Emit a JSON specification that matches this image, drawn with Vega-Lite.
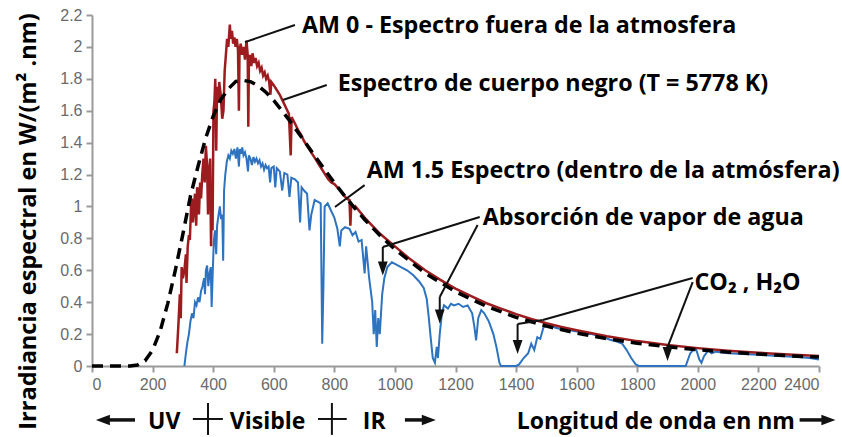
{
  "$schema": "https://vega.github.io/schema/vega-lite/v6.json",
  "width": 727,
  "height": 351,
  "autosize": {"type": "none"},
  "padding": {"left": 92, "top": 15, "right": 23, "bottom": 71},
  "background": "white",
  "config": {
    "view": {"stroke": null},
    "axis": {
      "domainColor": "#9a9a9a", "domainWidth": 2, "tickColor": "#9a9a9a", "tickWidth": 2, "tickSize": 6,
      "labelColor": "#6a6a6a", "labelFont": "Liberation Sans", "labelFontSize": 16, "grid": false, "labelPadding": 4
    },
    "axisY": {
      "titleFont": "Open Sans", "titleFontWeight": "bold", "titleFontSize": 23.5, "titleColor": "black",
      "titleAngle": -90, "titleX": -64, "titleY": 206, "titleBaseline": "middle", "titleAlign": "center"
    }
  },
  "datasets": {
    "bb": [
      {"x":0,"y":0},{"x":50,"y":0},{"x":100,"y":0},{"x":125,"y":0.0006},{"x":150,"y":0.0066},{"x":175,"y":0.0326},{"x":200,"y":0.099},{"x":225,"y":0.2186},{"x":250,"y":0.391},{"x":275,"y":0.60},{"x":300,"y":0.827},{"x":325,"y":1.065},{"x":350,"y":1.252},{"x":375,"y":1.426},{"x":400,"y":1.566},{"x":425,"y":1.669},{"x":450,"y":1.737},{"x":475,"y":1.784},{"x":500,"y":1.790},{"x":525,"y":1.781},{"x":550,"y":1.755},{"x":575,"y":1.714},{"x":600,"y":1.665},{"x":650,"y":1.544},{"x":700,"y":1.412},{"x":750,"y":1.278},{"x":800,"y":1.148},{"x":850,"y":1.028},{"x":900,"y":0.918},{"x":950,"y":0.819},{"x":1000,"y":0.731},{"x":1100,"y":0.582},{"x":1200,"y":0.466},{"x":1300,"y":0.376},{"x":1400,"y":0.305},{"x":1500,"y":0.250},{"x":1600,"y":0.206},{"x":1700,"y":0.171},{"x":1800,"y":0.143},{"x":1900,"y":0.1205},{"x":2000,"y":0.1021},{"x":2100,"y":0.087},{"x":2200,"y":0.0746},{"x":2300,"y":0.0643},{"x":2400,"y":0.0557}
    ],
    "am0": [
      {"x":280,"y":0.08},{"x":285,"y":0.25},{"x":290,"y":0.45},{"x":293,"y":0.3},{"x":296,"y":0.62},{"x":300,"y":0.55},{"x":305,"y":0.6},{"x":310,"y":0.7},{"x":312,"y":0.52},{"x":316,"y":0.75},{"x":320,"y":0.82},{"x":323,"y":0.79},{"x":327,"y":1.0},{"x":330,"y":1.05},{"x":333,"y":0.9},{"x":337,"y":1.0},{"x":340,"y":1.08},{"x":344,"y":0.88},{"x":347,"y":1.12},{"x":350,"y":1.1},{"x":353,"y":0.95},{"x":357,"y":1.15},{"x":360,"y":1.05},{"x":364,"y":1.2},{"x":368,"y":1.3},{"x":372,"y":1.15},{"x":376,"y":1.38},{"x":380,"y":1.25},{"x":383,"y":0.95},{"x":386,"y":1.2},{"x":390,"y":1.3},{"x":393,"y":0.75},{"x":396,"y":1.1},{"x":398,"y":0.85},{"x":401,"y":1.6},{"x":404,"y":1.65},{"x":407,"y":1.8},{"x":410,"y":1.35},{"x":413,"y":1.75},{"x":417,"y":1.65},{"x":420,"y":1.78},{"x":425,"y":1.7},{"x":430,"y":1.55},{"x":434,"y":1.6},{"x":438,"y":1.85},{"x":442,"y":1.95},{"x":446,"y":2.05},{"x":450,"y":2.0},{"x":455,"y":2.14},{"x":458,"y":2.05},{"x":462,"y":2.1},{"x":466,"y":2.02},{"x":470,"y":2.06},{"x":474,"y":2.0},{"x":478,"y":2.05},{"x":482,"y":1.98},{"x":485,"y":1.6},{"x":487,"y":1.98},{"x":491,"y":2.02},{"x":495,"y":1.95},{"x":500,"y":2.0},{"x":505,"y":1.92},{"x":510,"y":2.04},{"x":514,"y":1.95},{"x":516,"y":1.5},{"x":518,"y":1.92},{"x":522,"y":1.95},{"x":526,"y":1.88},{"x":530,"y":1.96},{"x":535,"y":1.9},{"x":540,"y":1.93},{"x":545,"y":1.88},{"x":550,"y":1.9},{"x":555,"y":1.85},{"x":560,"y":1.87},{"x":565,"y":1.82},{"x":570,"y":1.84},{"x":575,"y":1.8},{"x":580,"y":1.82},{"x":585,"y":1.78},{"x":589,"y":1.7},{"x":592,"y":1.78},{"x":600,"y":1.76},{"x":610,"y":1.73},{"x":620,"y":1.7},{"x":630,"y":1.66},{"x":640,"y":1.62},{"x":650,"y":1.58},{"x":656,"y":1.32},{"x":659,"y":1.56},{"x":670,"y":1.52},{"x":680,"y":1.48},{"x":690,"y":1.45},{"x":700,"y":1.41},{"x":710,"y":1.38},{"x":720,"y":1.35},{"x":730,"y":1.32},{"x":740,"y":1.29},{"x":750,"y":1.26},{"x":760,"y":1.23},{"x":770,"y":1.2},{"x":780,"y":1.17},{"x":790,"y":1.15},{"x":800,"y":1.14},{"x":820,"y":1.1},{"x":840,"y":1.05},{"x":850,"y":1.04},{"x":853,"y":0.88},{"x":856,"y":1.02},{"x":866,"y":0.99},{"x":870,"y":1.0},{"x":900,"y":0.93},{"x":950,"y":0.83},{"x":1000,"y":0.75},{"x":1050,"y":0.67},{"x":1100,"y":0.6},{"x":1150,"y":0.54},{"x":1200,"y":0.485},{"x":1250,"y":0.44},{"x":1300,"y":0.395},{"x":1350,"y":0.36},{"x":1400,"y":0.325},{"x":1450,"y":0.295},{"x":1500,"y":0.268},{"x":1550,"y":0.245},{"x":1600,"y":0.224},{"x":1700,"y":0.186},{"x":1800,"y":0.156},{"x":1900,"y":0.132},{"x":2000,"y":0.112},{"x":2100,"y":0.096},{"x":2200,"y":0.083},{"x":2300,"y":0.072},{"x":2400,"y":0.063}
    ],
    "am15": [
      {"x":305,"y":0},{"x":310,"y":0.08},{"x":315,"y":0.15},{"x":320,"y":0.2},{"x":325,"y":0.28},{"x":330,"y":0.33},{"x":335,"y":0.3},{"x":340,"y":0.4},{"x":345,"y":0.38},{"x":350,"y":0.43},{"x":355,"y":0.4},{"x":360,"y":0.47},{"x":365,"y":0.5},{"x":370,"y":0.55},{"x":373,"y":0.45},{"x":376,"y":0.6},{"x":380,"y":0.63},{"x":384,"y":0.5},{"x":388,"y":0.58},{"x":392,"y":0.62},{"x":395,"y":0.37},{"x":398,"y":0.55},{"x":402,"y":0.78},{"x":406,"y":0.85},{"x":410,"y":0.7},{"x":413,"y":0.88},{"x":418,"y":0.95},{"x":422,"y":1.0},{"x":426,"y":0.92},{"x":430,"y":0.95},{"x":433,"y":0.66},{"x":436,"y":1.1},{"x":440,"y":1.2},{"x":445,"y":1.28},{"x":450,"y":1.32},{"x":455,"y":1.3},{"x":460,"y":1.35},{"x":465,"y":1.33},{"x":470,"y":1.36},{"x":475,"y":1.3},{"x":480,"y":1.37},{"x":485,"y":1.25},{"x":488,"y":1.36},{"x":492,"y":1.33},{"x":496,"y":1.37},{"x":500,"y":1.32},{"x":505,"y":1.34},{"x":510,"y":1.3},{"x":515,"y":1.22},{"x":518,"y":1.32},{"x":523,"y":1.3},{"x":528,"y":1.26},{"x":533,"y":1.31},{"x":538,"y":1.28},{"x":543,"y":1.3},{"x":548,"y":1.27},{"x":553,"y":1.29},{"x":558,"y":1.25},{"x":563,"y":1.27},{"x":568,"y":1.23},{"x":573,"y":1.26},{"x":578,"y":1.24},{"x":583,"y":1.25},{"x":588,"y":1.15},{"x":592,"y":1.24},{"x":600,"y":1.25},{"x":605,"y":1.12},{"x":610,"y":1.24},{"x":620,"y":1.22},{"x":628,"y":1.1},{"x":635,"y":1.21},{"x":645,"y":1.2},{"x":652,"y":1.06},{"x":658,"y":1.18},{"x":670,"y":1.17},{"x":680,"y":1.15},{"x":687,"y":0.9},{"x":692,"y":1.12},{"x":700,"y":1.1},{"x":710,"y":1.08},{"x":718,"y":0.85},{"x":724,"y":0.95},{"x":735,"y":1.04},{"x":745,"y":1.03},{"x":755,"y":1.02},{"x":760,"y":0.14},{"x":764,"y":0.5},{"x":768,"y":1.0},{"x":778,"y":1.02},{"x":790,"y":0.97},{"x":800,"y":0.93},{"x":810,"y":0.86},{"x":818,"y":0.75},{"x":823,"y":0.85},{"x":835,"y":0.87},{"x":850,"y":0.86},{"x":860,"y":0.82},{"x":870,"y":0.84},{"x":880,"y":0.78},{"x":890,"y":0.79},{"x":900,"y":0.58},{"x":905,"y":0.75},{"x":915,"y":0.55},{"x":925,"y":0.4},{"x":930,"y":0.2},{"x":935,"y":0.35},{"x":940,"y":0.12},{"x":945,"y":0.3},{"x":950,"y":0.2},{"x":958,"y":0.45},{"x":965,"y":0.55},{"x":975,"y":0.62},{"x":990,"y":0.65},{"x":1000,"y":0.64},{"x":1020,"y":0.62},{"x":1040,"y":0.6},{"x":1060,"y":0.57},{"x":1080,"y":0.53},{"x":1095,"y":0.49},{"x":1105,"y":0.42},{"x":1112,"y":0.3},{"x":1118,"y":0.18},{"x":1125,"y":0.05},{"x":1132,"y":0.02},{"x":1138,"y":0.12},{"x":1142,"y":0.05},{"x":1148,"y":0.2},{"x":1155,"y":0.33},{"x":1162,"y":0.38},{"x":1175,"y":0.36},{"x":1185,"y":0.39},{"x":1195,"y":0.38},{"x":1210,"y":0.39},{"x":1225,"y":0.37},{"x":1240,"y":0.38},{"x":1255,"y":0.33},{"x":1262,"y":0.25},{"x":1268,"y":0.16},{"x":1275,"y":0.3},{"x":1285,"y":0.35},{"x":1295,"y":0.33},{"x":1310,"y":0.28},{"x":1325,"y":0.2},{"x":1335,"y":0.12},{"x":1345,"y":0.02},{"x":1350,"y":0},{"x":1400,"y":0},{"x":1410,"y":0.01},{"x":1425,"y":0.05},{"x":1440,"y":0.08},{"x":1450,"y":0.14},{"x":1460,"y":0.1},{"x":1470,"y":0.18},{"x":1480,"y":0.17},{"x":1490,"y":0.24},{"x":1500,"y":0.26},{"x":1515,"y":0.25},{"x":1530,"y":0.24},{"x":1550,"y":0.23},{"x":1570,"y":0.23},{"x":1590,"y":0.22},{"x":1610,"y":0.215},{"x":1630,"y":0.2},{"x":1650,"y":0.2},{"x":1670,"y":0.19},{"x":1690,"y":0.18},{"x":1710,"y":0.165},{"x":1730,"y":0.155},{"x":1750,"y":0.14},{"x":1765,"y":0.1},{"x":1780,"y":0.05},{"x":1795,"y":0.01},{"x":1805,"y":0},{"x":1960,"y":0},{"x":1975,"y":0.08},{"x":1985,"y":0.1},{"x":1995,"y":0.1},{"x":2005,"y":0.04},{"x":2012,"y":0.02},{"x":2020,"y":0.06},{"x":2035,"y":0.1},{"x":2045,"y":0.08},{"x":2060,"y":0.09},{"x":2080,"y":0.085},{"x":2100,"y":0.08},{"x":2150,"y":0.075},{"x":2200,"y":0.07},{"x":2250,"y":0.065},{"x":2300,"y":0.06},{"x":2340,"y":0.055},{"x":2370,"y":0.05},{"x":2400,"y":0.04}
    ],
    "bar": [
      {"x":400,"x2":410,"m":405},{"x":410,"x2":420,"m":415},{"x":420,"x2":430,"m":425},{"x":430,"x2":440,"m":435},{"x":440,"x2":450,"m":445},{"x":450,"x2":460,"m":455},{"x":460,"x2":470,"m":465},{"x":470,"x2":480,"m":475},{"x":480,"x2":490,"m":485},{"x":490,"x2":500,"m":495},{"x":500,"x2":510,"m":505},{"x":510,"x2":520,"m":515},{"x":520,"x2":530,"m":525},{"x":530,"x2":540,"m":535},{"x":540,"x2":550,"m":545},{"x":550,"x2":560,"m":555},{"x":560,"x2":570,"m":565},{"x":570,"x2":580,"m":575},{"x":580,"x2":590,"m":585},{"x":590,"x2":600,"m":595},{"x":600,"x2":610,"m":605},{"x":610,"x2":620,"m":615},{"x":620,"x2":630,"m":625},{"x":630,"x2":640,"m":635},{"x":640,"x2":650,"m":645},{"x":650,"x2":660,"m":655},{"x":660,"x2":670,"m":665},{"x":670,"x2":680,"m":675},{"x":680,"x2":690,"m":685},{"x":690,"x2":700,"m":695},{"x":700,"x2":710,"m":705},{"x":710,"x2":720,"m":715},{"x":720,"x2":730,"m":725},{"x":730,"x2":740,"m":735},{"x":740,"x2":750,"m":745},{"x":750,"x2":760,"m":755},{"x":760,"x2":770,"m":765},{"x":770,"x2":780,"m":775},{"x":780,"x2":790,"m":785},{"x":790,"x2":800,"m":795}
    ],
    "segs": [
      {"x":505,"y":2.03,"x2":670,"y2":2.137},
      {"x":630,"y":1.667,"x2":775,"y2":1.761},
      {"x":802,"y":0.997,"x2":900,"y2":1.134},
      {"x":1280,"y":0.934,"x2":960,"y2":0.746},
      {"x":960,"y":0.746,"x2":960,"y2":0.652},
      {"x":1273,"y":0.884,"x2":1148,"y2":0.432},
      {"x":1148,"y":0.432,"x2":1148,"y2":0.351},
      {"x":1983,"y":0.552,"x2":1488,"y2":0.288},
      {"x":1488,"y":0.288,"x2":1405,"y2":0.263},
      {"x":1405,"y":0.263,"x2":1405,"y2":0.163},
      {"x":1983,"y":0.526,"x2":1900,"y2":0.119},
      {"x":383,"y":-0.232,"x2":383,"y2":-0.432},
      {"x":333,"y":-0.332,"x2":432,"y2":-0.332},
      {"x":792,"y":-0.232,"x2":792,"y2":-0.432},
      {"x":746,"y":-0.332,"x2":841,"y2":-0.332}
    ],
    "shafts": [
      {"x":43,"y":-0.338,"x2":142,"y2":-0.338},
      {"x":1033,"y":-0.338,"x2":1099,"y2":-0.338},
      {"x":2336,"y":-0.338,"x2":2418,"y2":-0.338}
    ],
    "heads": [
      {"x":960,"y":0.611,"d":"down"},
      {"x":1148,"y":0.31,"d":"down"},
      {"x":1405,"y":0.119,"d":"down"},
      {"x":1900,"y":0.075,"d":"down"},
      {"x":36,"y":-0.338,"d":"left"},
      {"x":1112,"y":-0.338,"d":"right"},
      {"x":2431,"y":-0.338,"d":"right"}
    ],
    "labels": [
      {"x":693,"y":2.087,"t":"AM 0 - Espectro fuera de la atmosfera"},
      {"x":811,"y":1.724,"t":"Espectro de cuerpo negro (T = 5778 K)"},
      {"x":907,"y":1.178,"t":"AM 1.5 Espectro (dentro de la atmósfera)"},
      {"x":1290,"y":0.884,"t":"Absorción de vapor de agua"},
      {"x":1989,"y":0.476,"t":"CO₂ , H₂O"}
    ],
    "bottom": [
      {"x":185,"y":-0.395,"t":"UV"},
      {"x":455,"y":-0.395,"t":"Visible"},
      {"x":894,"y":-0.395,"t":"IR"},
      {"x":1402,"y":-0.395,"t":"Longitud de onda en nm"}
    ]
  },
  "encoding": {
    "x": {"field": "x", "type": "quantitative", "title": null, "scale": {"domain": [0, 2400], "nice": false},
          "axis": {"values": [0,200,400,600,800,1000,1200,1400,1600,1800,2000,2200,2400], "format": "d"}},
    "y": {"field": "y", "type": "quantitative", "title": "Irradiancia espectral en W/(m² .nm)", "scale": {"domain": [0, 2.2], "nice": false},
          "axis": {"values": [0,0.2,0.4,0.6,0.8,1,1.2,1.4,1.6,1.8,2,2.2], "format": "~g"}}
  },
  "layer": [
    {
      "data": {"name": "bar"},
      "mark": {"type": "rect"},
      "encoding": {
        "x2": {"field": "x2"},
        "y": {"datum": 0, "type": "quantitative", "title": "Irradiancia espectral en W/(m² .nm)", "scale": {"domain": [0, 2.2], "nice": false},
              "axis": {"values": [0,0.2,0.4,0.6,0.8,1,1.2,1.4,1.6,1.8,2,2.2], "format": "~g"}},
        "y2": {"datum": 0.16},
        "color": {"field": "m", "type": "quantitative", "legend": null,
                  "scale": {"domain": [400,445,478,510,533,566,598,642,686,730,800],
                            "range": ["#8e4c9e","#2d3f94","#1f80c8","#45b1c5","#52b47a","#c3d64b","#f6e130","#f5a02b","#ee3e2b","#e21f27","#b5222a"],
                            "interpolate": "rgb"}}
      }
    },
    {
      "data": {"name": "am15"},
      "mark": {"type": "line", "color": "#2d73c0", "strokeWidth": 2}
    },
    {
      "data": {"name": "am0"},
      "mark": {"type": "line", "color": "#9c1c1f", "strokeWidth": 2.5}
    },
    {
      "data": {"name": "bb"},
      "mark": {"type": "line", "color": "black", "strokeWidth": 3.5, "strokeDash": [11, 7]}
    },
    {
      "data": {"name": "segs"},
      "mark": {"type": "rule", "color": "#111", "strokeWidth": 2},
      "encoding": {"x2": {"field": "x2"}, "y2": {"field": "y2"}}
    },
    {
      "data": {"name": "shafts"},
      "mark": {"type": "rule", "color": "#111", "strokeWidth": 3.5},
      "encoding": {"x2": {"field": "x2"}, "y2": {"field": "y2"}}
    },
    {
      "data": {"name": "heads"},
      "mark": {"type": "point", "filled": true, "color": "#111", "opacity": 1, "size": 196},
      "encoding": {
        "shape": {"field": "d", "type": "nominal", "legend": null,
                  "scale": {"domain": ["down", "left", "right"],
                            "range": ["M-0.7,-1L0.7,-1L0,1Z", "M1,-0.75L1,0.75L-1,0Z", "M-1,-0.75L-1,0.75L1,0Z"]}}
      }
    },
    {
      "data": {"name": "labels"},
      "mark": {"type": "text", "align": "left", "baseline": "alphabetic", "font": "Open Sans", "fontWeight": "bold", "fontSize": 23.3, "color": "black"},
      "encoding": {"text": {"field": "t"}}
    },
    {
      "data": {"name": "bottom"},
      "mark": {"type": "text", "align": "left", "baseline": "alphabetic", "font": "Open Sans", "fontWeight": "bold", "fontSize": 23, "color": "black"},
      "encoding": {"text": {"field": "t"}}
    }
  ]
}
